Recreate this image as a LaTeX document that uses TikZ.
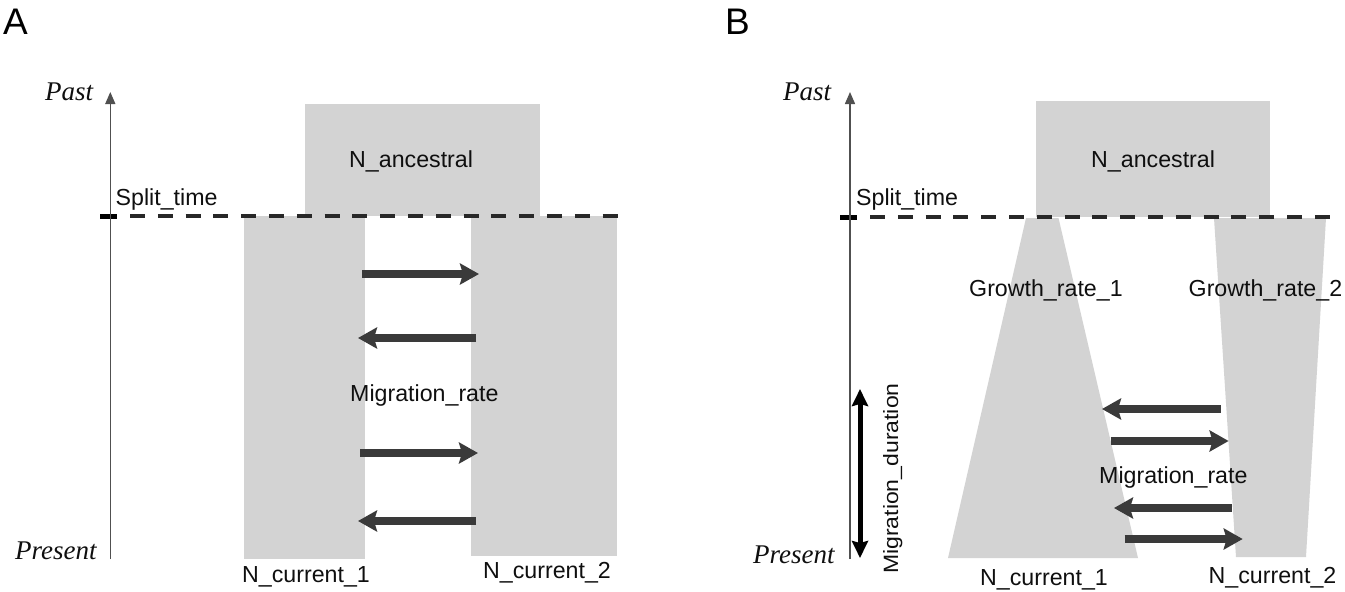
\documentclass[tikz,border=0pt]{standalone}
\usepackage{fontspec}
\setmainfont{Liberation Sans}
\newfontfamily\timesfont{Liberation Serif}
\usetikzlibrary{arrows.meta}
\definecolor{popgray}{RGB}{211,211,211}
\definecolor{arrgray}{RGB}{58,58,58}
\definecolor{axisgray}{RGB}{80,80,80}
\definecolor{dashgray}{RGB}{40,40,40}
\definecolor{txt}{RGB}{15,15,15}
\begin{document}
\begin{tikzpicture}[x=1pt,y=-1pt,
  popfill/.style={fill=popgray,draw=none},
  lbl/.style={font=\fontsize{23.2}{28}\selectfont,inner sep=0pt,text=txt,anchor=base west},
  panel/.style={font=\fontsize{37}{42}\selectfont,inner sep=0pt,text=black,anchor=base west},
  timelbl/.style={font=\timesfont\itshape\fontsize{27}{32}\selectfont,inner sep=0pt,text=txt,anchor=base west},
  migarrow/.style={arrgray,line width=8pt,-{Stealth[length=19pt,width=21pt,inset=3pt]}},
  timeaxis/.style={axisgray,line width=1.4pt,-{Triangle[length=12pt,width=10pt]}},
  splitline/.style={dashgray,line width=4.5pt,dash pattern=on 15pt off 12.8pt},
  splittick/.style={black,line width=5pt},
  durarrow/.style={black,line width=5pt,{Stealth[length=17pt,width=16pt,inset=2pt]}-{Stealth[length=17pt,width=16pt,inset=2pt]}}
]
\useasboundingbox (0,0) rectangle (1345,592);

% ================= Panel A =================
\node[panel] (labA) at (3,34) {A};
% populations
\fill[popfill] (305,104) rectangle (540,216);
\fill[popfill] (244,216) rectangle (365,559);
\fill[popfill] (471,216) rectangle (617,556);
% split line
\coordinate (splA0) at (130,216);
\coordinate (splA1) at (620,216);
\draw[splitline] (splA0) -- (splA1);
\coordinate (tickA0) at (100,216);
\coordinate (tickA1) at (117,216);
\draw[splittick] (tickA0) -- (tickA1);
% time axis
\coordinate (axA0) at (110.3,559);
\coordinate (axA1) at (110.3,92);
\draw[timeaxis] (axA0) -- (axA1);
\node[timelbl] (pastA) at (45,100) {Past};
\node[timelbl] (presA) at (15,559.5) {Present};
\node[lbl] (splitA) at (115.5,205) {Split\_time};
\node[lbl] (ancA) at (349,167.7) {N\_ancestral};
\node[lbl] (migA) at (350,401) {Migration\_rate};
\node[lbl] (cur1A) at (242,582) {N\_current\_1};
\node[lbl] (cur2A) at (483,578.5) {N\_current\_2};
% migration arrows
\coordinate (a1s) at (362,274);   \coordinate (a1e) at (479,274);
\coordinate (a2s) at (476,338);   \coordinate (a2e) at (358,338);
\coordinate (a3s) at (360,453);   \coordinate (a3e) at (478,453);
\coordinate (a4s) at (476,521);   \coordinate (a4e) at (358,521);
\draw[migarrow] (a1s) -- (a1e);
\draw[migarrow] (a2s) -- (a2e);
\draw[migarrow] (a3s) -- (a3e);
\draw[migarrow] (a4s) -- (a4e);

% ================= Panel B =================
\node[panel] (labB) at (725,34) {B};
\fill[popfill] (1036,101) rectangle (1270,217);
\fill[popfill] (1026,218) -- (1058.5,218) -- (1138,558) -- (948,558) -- cycle;
\fill[popfill] (1214,218) -- (1326,218) -- (1306,557) -- (1236,557) -- cycle;
\coordinate (splB0) at (870,217);
\coordinate (splB1) at (1332,217);
\draw[splitline] (splB0) -- (splB1);
\coordinate (tickB0) at (840,217);
\coordinate (tickB1) at (857,217);
\draw[splittick] (tickB0) -- (tickB1);
\coordinate (axB0) at (850,559);
\coordinate (axB1) at (850,92);
\draw[timeaxis] (axB0) -- (axB1);
\node[timelbl] (pastB) at (783,100) {Past};
\node[timelbl] (presB) at (753,563) {Present};
\node[lbl] (splitB) at (856,205) {Split\_time};
\node[lbl] (ancB) at (1091,167) {N\_ancestral};
\node[lbl] (gr1) at (969,296) {Growth\_rate\_1};
\node[lbl] (gr2) at (1188.5,296) {Growth\_rate\_2};
\node[lbl] (migB) at (1099,483.5) {Migration\_rate};
\node[lbl] (cur1B) at (980,585) {N\_current\_1};
\node[lbl] (cur2B) at (1208.5,583) {N\_current\_2};
% migration duration
\coordinate (durT) at (860,389);
\coordinate (durB) at (860,558);
\draw[durarrow] (durT) -- (durB);
\node[lbl,rotate=90,font=\fontsize{23}{27}\selectfont] (durlbl) at (898,574) {\scalebox{1}[0.9]{Migration\_duration}};
% migration arrows
\coordinate (b1s) at (1220.5,409); \coordinate (b1e) at (1102,409);
\coordinate (b2s) at (1110.5,441); \coordinate (b2e) at (1228.6,441);
\coordinate (b3s) at (1232,508);   \coordinate (b3e) at (1114,508);
\coordinate (b4s) at (1124.6,539); \coordinate (b4e) at (1242.7,539);
\draw[migarrow] (b1s) -- (b1e);
\draw[migarrow] (b2s) -- (b2e);
\draw[migarrow] (b3s) -- (b3e);
\draw[migarrow] (b4s) -- (b4e);
\end{tikzpicture}
\end{document}
